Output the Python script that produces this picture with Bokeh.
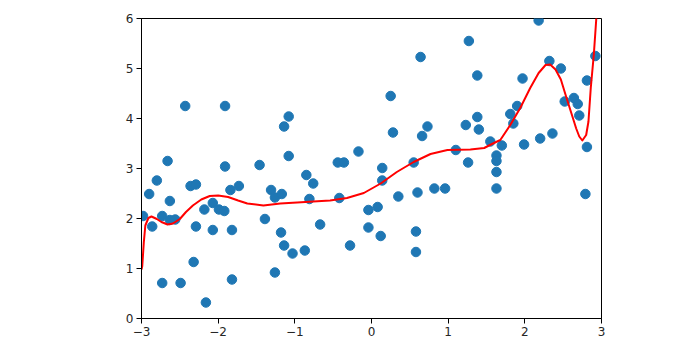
from bokeh.plotting import figure
from bokeh.models import Range1d, FixedTicker
from bokeh.embed import file_html
from bokeh.resources import INLINE

# scatter data
xs = [-2.98, -2.90, -2.86, -2.80, -2.73, -2.73, -2.66, -2.63, -2.63, -2.56,
      -2.49, -2.43, -2.36, -2.29, -2.32, -2.29, -2.18, -2.16, -2.07, -2.07,
      -1.99, -1.92, -1.91, -1.91, -1.84, -1.82, -1.82, -1.73, -1.46, -1.39,
      -1.31, -1.26, -1.26, -1.17, -1.18, -1.14, -1.08, -1.14, -1.08, -1.03,
      -0.87, -0.85, -0.76, -0.81, -0.67, -0.44, -0.36, -0.42, -0.28, -0.17,
      -0.04, -0.04, 0.08, 0.12, 0.14, 0.14, 0.25, 0.28, 0.35, 0.55,
      0.58, 0.58, 0.60, 0.64, 0.66, 0.73, 0.82, 0.96, 1.10, 1.27,
      1.23, 1.26, 1.38, 1.38, 1.40, 1.55, 1.63, 1.63, 1.63, 1.63,
      1.70, 1.81, 1.85, 1.90, 1.97, 1.99, 2.18, 2.20, 2.32, 2.36,
      2.47, 2.52, 2.64, 2.69, 2.71, 2.81, 2.81, 2.79, 2.92]
ys = [2.05, 2.49, 1.84, 2.76, 2.05, 0.71, 3.15, 2.35, 1.97, 1.98,
      0.71, 4.25, 2.65, 2.68, 1.13, 1.84, 2.18, 0.32, 2.31, 1.77,
      2.18, 2.15, 4.25, 3.04, 2.57, 1.77, 0.78, 2.65, 3.07, 1.99,
      2.57, 0.92, 2.42, 2.49, 1.72, 3.84, 4.04, 1.46, 3.25, 1.30,
      1.36, 2.87, 2.70, 2.39, 1.88, 3.12, 3.12, 2.41, 1.46, 3.34,
      2.17, 1.82, 2.23, 1.65, 3.01, 2.76, 4.45, 3.72, 2.44, 3.12,
      1.74, 1.33, 2.52, 5.23, 3.65, 3.84, 2.60, 2.60, 3.37, 5.55,
      3.87, 3.12, 4.86, 4.03, 3.78, 3.54, 3.26, 3.15, 2.93, 2.60,
      3.46, 4.09, 3.90, 4.25, 4.80, 3.48, 5.96, 3.60, 5.15, 3.70,
      5.00, 4.34, 4.41, 4.29, 4.06, 4.76, 3.43, 2.49, 5.25]

# fitted curve
curve_x = [-3.00, -2.99, -2.97, -2.95, -2.91, -2.87, -2.80, -2.74, -2.66, -2.59,
           -2.50, -2.42, -2.33, -2.22, -2.11, -2.00, -1.87, -1.74, -1.62, -1.41,
           -1.19, -0.97, -0.76, -0.54, -0.32, -0.10, 0.12, 0.33, 0.55, 0.77,
           0.99, 1.29, 1.47, 1.57, 1.68, 1.81, 1.94, 2.07, 2.18, 2.27,
           2.33, 2.40, 2.47, 2.53, 2.60, 2.67, 2.71, 2.75, 2.80, 2.83,
           2.86, 2.90, 2.93, 2.96]
curve_y = [0.98, 1.05, 1.52, 1.86, 2.01, 2.04, 1.99, 1.93, 1.88, 1.90,
           1.99, 2.13, 2.26, 2.38, 2.45, 2.46, 2.43, 2.36, 2.30, 2.26,
           2.30, 2.32, 2.34, 2.36, 2.41, 2.51, 2.70, 2.93, 3.13, 3.29,
           3.37, 3.38, 3.41, 3.49, 3.57, 3.87, 4.21, 4.61, 4.91, 5.07,
           5.08, 4.98, 4.78, 4.48, 4.14, 3.80, 3.64, 3.56, 3.67, 3.94,
           4.61, 5.28, 5.95, 6.70]

x_ticks = [-3, -2, -1, 0, 1, 2, 3]
y_ticks = [0, 1, 2, 3, 4, 5, 6]

p = figure(width=696, height=350, output_backend="svg", toolbar_location=None,
           x_range=Range1d(-3, 3), y_range=Range1d(0, 6))
p.min_border_left = 141
p.min_border_right = 95
p.min_border_top = 18
p.min_border_bottom = 32
p.grid.visible = False
p.outline_line_color = "black"
p.outline_line_alpha = 1
p.outline_line_width = 1
p.background_fill_color = "white"
p.border_fill_color = "white"

for ax in (p.xaxis[0], p.yaxis[0]):
    ax.minor_tick_line_color = None
    ax.major_tick_in = 0
    ax.major_tick_out = 5
    ax.major_tick_line_color = "black"
    ax.axis_line_color = "black"
    ax.major_label_text_font = "DejaVu Sans"
    ax.major_label_text_font_size = "12px"
    ax.major_label_text_color = "#262626"
    ax.major_label_standoff = 3

p.xaxis.ticker = FixedTicker(ticks=x_ticks)
p.yaxis.ticker = FixedTicker(ticks=y_ticks)
p.xaxis.major_label_overrides = {t: (str(t).replace("-", "\u2212")) for t in x_ticks}
p.yaxis.major_label_overrides = {t: str(t) for t in y_ticks}

p.scatter(xs, ys, size=9.5, color="#1f77b4", line_color="#1f77b4")
p.line(curve_x, curve_y, line_color="#ff0000", line_width=2, line_join="round")

open("out.html", "w").write(file_html(p, INLINE))
